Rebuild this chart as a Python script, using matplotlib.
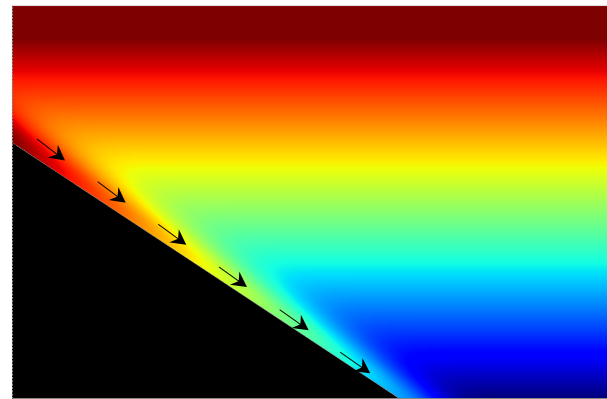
import numpy as np
import matplotlib
matplotlib.use("Agg")
import matplotlib.pyplot as plt

# Domain (axes units ~ pixels of the plotting box)
x_max, y_max = 595.0, 393.0
# Background stratification: value = y / scale
strat_scale = 360.0
# Sloping wall: y = wall_y0 + wall_slope * x
wall_y0 = 255.3
wall_slope = -0.661
# Boundary-layer anomaly
anom_amp = 0.28
anom_thick = 23.0

# Arrows (tail positions and vector components)
arrow_x = [25.0, 85.7, 146.3, 207.0, 267.7, 328.3]
arrow_y = [259.0, 216.3, 173.7, 131.0, 88.3, 45.7]
arrow_u = [28.0, 28.0, 28.0, 28.0, 29.0, 30.0]
arrow_v = [-21.5, -21.0, -20.5, -20.0, -20.5, -21.0]

fig = plt.figure(figsize=(6.07, 3.99), dpi=100)
ax = fig.add_axes([12/607, 1/399, 595/607, 393/399])

xs = np.linspace(0, x_max, 800)
ys = np.linspace(0, y_max, 530)
X, Y = np.meshgrid(xs, ys)
cos_t = np.cos(np.arctan(-wall_slope))
zeta = (Y - (wall_y0 + wall_slope * X)) * cos_t
s = np.clip(zeta, 0, None) / anom_thick
field = Y / strat_scale + anom_amp * np.exp(-s**2)
field = np.ma.masked_where(zeta < 0, field)

ax.imshow(field, cmap="jet", vmin=0, vmax=1, origin="lower",
          extent=[0, x_max, 0, y_max], aspect="auto", interpolation="bilinear")

x_end = -wall_y0 / wall_slope
ax.fill([0, 0, x_end], [0, wall_y0, 0], color="black", lw=0)

ax.quiver(arrow_x, arrow_y, arrow_u, arrow_v, angles="xy", scale_units="xy",
          scale=1, color="black", width=0.0016, headwidth=17, headlength=16,
          headaxislength=11)

ax.set_xlim(0, x_max)
ax.set_ylim(0, y_max)
ax.set_xticks([])
ax.set_yticks([])
ax.spines["right"].set_visible(False)
ax.spines["left"].set_color("#888888")
ax.spines["left"].set_linestyle((0, (1, 2)))
ax.spines["left"].set_linewidth(0.8)
ax.spines["top"].set_color("#dddddd")
ax.spines["top"].set_linewidth(0.8)
ax.spines["bottom"].set_color("#555555")
ax.spines["bottom"].set_linewidth(0.5)

fig.savefig("out.png", dpi=100)
